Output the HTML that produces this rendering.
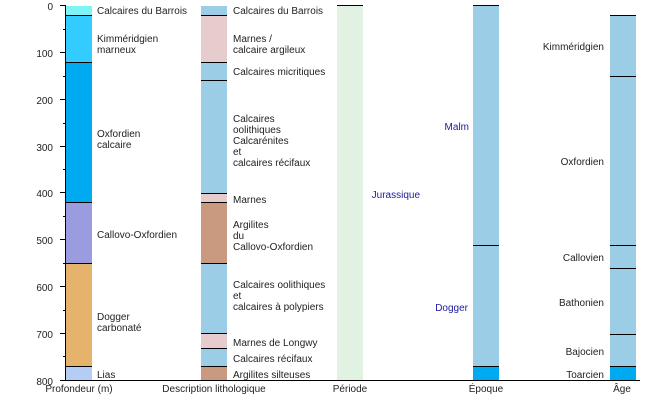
<!DOCTYPE html>
<html><head><meta charset="utf-8"><style>body{margin:0;background:#fff}svg{display:block}text{font-family:"Liberation Sans",sans-serif;font-size:10px;fill:#222}</style></head>
<body>
<svg width="650" height="400" xmlns="http://www.w3.org/2000/svg">
<!-- col1 -->
<rect x="66" y="6" width="26" height="9" fill="#7ff4f4"/>
<rect x="66" y="15" width="26" height="47" fill="#33ccff"/>
<rect x="66" y="62" width="26" height="140" fill="#00aaf0"/>
<rect x="66" y="202" width="26" height="61" fill="#9b9be0"/>
<rect x="66" y="263" width="26" height="103" fill="#e5b36b"/>
<rect x="66" y="366" width="26" height="14" fill="#b3cdf5"/>
<g stroke="#000" stroke-width="1">
<line x1="66" y1="15.5" x2="92" y2="15.5"/><line x1="66" y1="62.5" x2="92" y2="62.5"/><line x1="66" y1="202.5" x2="92" y2="202.5"/><line x1="66" y1="263.5" x2="92" y2="263.5"/><line x1="66" y1="366.5" x2="92" y2="366.5"/>
</g>
<!-- col2 -->
<rect x="201" y="6" width="26" height="374" fill="#9ccde6"/>
<rect x="201" y="15" width="26" height="47" fill="#e6cccc"/>
<rect x="201" y="193" width="26" height="9" fill="#e6cccc"/>
<rect x="201" y="202" width="26" height="61" fill="#c99a7f"/>
<rect x="201" y="333" width="26" height="15" fill="#e6cccc"/>
<rect x="201" y="366" width="26" height="14" fill="#c99a7f"/>
<g stroke="#000" stroke-width="1">
<line x1="201" y1="15.5" x2="227" y2="15.5"/><line x1="201" y1="62.5" x2="227" y2="62.5"/><line x1="201" y1="80.5" x2="227" y2="80.5"/><line x1="201" y1="193.5" x2="227" y2="193.5"/><line x1="201" y1="202.5" x2="227" y2="202.5"/><line x1="201" y1="263.5" x2="227" y2="263.5"/><line x1="201" y1="333.5" x2="227" y2="333.5"/><line x1="201" y1="348.5" x2="227" y2="348.5"/><line x1="201" y1="366.5" x2="227" y2="366.5"/>
</g>
<!-- periode -->
<rect x="337" y="6" width="26" height="374" fill="#e2f2e2"/>
<line x1="337" y1="5.5" x2="363" y2="5.5" stroke="#000"/>
<!-- epoque -->
<rect x="473" y="6" width="26" height="374" fill="#9ccde6"/>
<rect x="473" y="366" width="26" height="14" fill="#00aaf0"/>
<g stroke="#000"><line x1="473" y1="5.5" x2="499" y2="5.5"/><line x1="473" y1="245.5" x2="499" y2="245.5"/><line x1="473" y1="366.5" x2="499" y2="366.5"/></g>
<!-- age -->
<rect x="610" y="15" width="26" height="365" fill="#9ccde6"/>
<rect x="610" y="366" width="26" height="14" fill="#00aaf0"/>
<g stroke="#000"><line x1="610" y1="15.5" x2="636" y2="15.5"/><line x1="610" y1="76.5" x2="636" y2="76.5"/><line x1="610" y1="245.5" x2="636" y2="245.5"/><line x1="610" y1="268.5" x2="636" y2="268.5"/><line x1="610" y1="334.5" x2="636" y2="334.5"/><line x1="610" y1="366.5" x2="636" y2="366.5"/></g>
<!-- axes -->
<g stroke="#000" stroke-width="1">
<line x1="65.5" y1="5" x2="65.5" y2="380"/>
<line x1="60" y1="380.5" x2="640" y2="380.5"/>
<line x1="60" y1="5.5" x2="66" y2="5.5"/><line x1="60" y1="52.5" x2="66" y2="52.5"/><line x1="60" y1="99.5" x2="66" y2="99.5"/><line x1="60" y1="146.5" x2="66" y2="146.5"/><line x1="60" y1="192.5" x2="66" y2="192.5"/><line x1="60" y1="239.5" x2="66" y2="239.5"/><line x1="60" y1="286.5" x2="66" y2="286.5"/><line x1="60" y1="333.5" x2="66" y2="333.5"/>
<line x1="63" y1="29.5" x2="66" y2="29.5"/><line x1="63" y1="76.5" x2="66" y2="76.5"/><line x1="63" y1="123.5" x2="66" y2="123.5"/><line x1="63" y1="169.5" x2="66" y2="169.5"/><line x1="63" y1="216.5" x2="66" y2="216.5"/><line x1="63" y1="263.5" x2="66" y2="263.5"/><line x1="63" y1="310.5" x2="66" y2="310.5"/><line x1="63" y1="356.5" x2="66" y2="356.5"/>
</g>
<g text-anchor="end">
<text x="53" y="10">0</text><text x="53" y="57">100</text><text x="53" y="104">200</text><text x="53" y="151">300</text><text x="53" y="197">400</text><text x="53" y="244">500</text><text x="53" y="291">600</text><text x="53" y="338">700</text><text x="53" y="385">800</text>
</g>
<g>
<text x="97" y="14">Calcaires du Barrois</text>
<text x="97" y="42">Kimméridgien</text><text x="97" y="53">marneux</text>
<text x="97" y="137">Oxfordien</text><text x="97" y="148">calcaire</text>
<text x="97" y="238">Callovo-Oxfordien</text>
<text x="97" y="320">Dogger</text><text x="97" y="331">carbonaté</text>
<text x="97" y="378">Lias</text>
<text x="233" y="14">Calcaires du Barrois</text>
<text x="233" y="42">Marnes /</text><text x="233" y="53">calcaire argileux</text>
<text x="233" y="75">Calcaires micritiques</text>
<text x="233" y="122">Calcaires</text><text x="233" y="133">oolithiques</text><text x="233" y="144">Calcarénites</text><text x="233" y="155">et</text><text x="233" y="166">calcaires récifaux</text>
<text x="233" y="203">Marnes</text>
<text x="233" y="228">Argilites</text><text x="233" y="239">du</text><text x="233" y="250">Callovo-Oxfordien</text>
<text x="233" y="288">Calcaires oolithiques</text><text x="233" y="299">et</text><text x="233" y="310">calcaires à polypiers</text>
<text x="233" y="346">Marnes de Longwy</text>
<text x="233" y="362">Calcaires récifaux</text>
<text x="233" y="378">Argilites silteuses</text>
</g>
<g text-anchor="end" fill="#1a1aa0" style="fill:#1a1aa0">
<text x="420" y="198" style="fill:#1a1aa0">Jurassique</text>
<text x="469" y="130" style="fill:#1a1aa0">Malm</text>
<text x="468" y="311" style="fill:#1a1aa0">Dogger</text>
</g>
<g text-anchor="end">
<text x="604" y="50">Kimméridgien</text>
<text x="604" y="165">Oxfordien</text>
<text x="604" y="261">Callovien</text>
<text x="604" y="306">Bathonien</text>
<text x="604" y="355">Bajocien</text>
<text x="604" y="378">Toarcien</text>
</g>
<g text-anchor="middle">
<text x="79" y="392">Profondeur (m)</text>
<text x="214" y="392">Description lithologique</text>
<text x="350" y="392">Période</text>
<text x="486" y="392">Époque</text>
<text x="622" y="392">Âge</text>
</g>
</svg>
</body></html>
